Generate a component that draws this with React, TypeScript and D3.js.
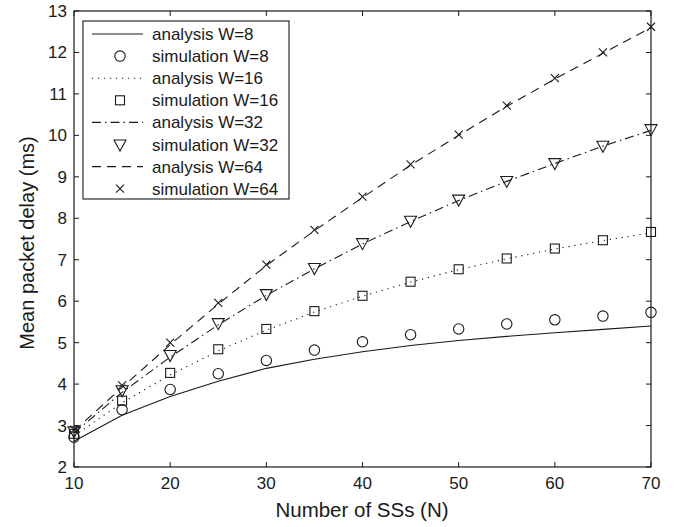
import React from "react";
import * as d3 from "d3";

const N = [10, 15, 20, 25, 30, 35, 40, 45, 50, 55, 60, 65, 70];

const simW8 = [2.72, 3.38, 3.87, 4.25, 4.57, 4.82, 5.02, 5.19, 5.33, 5.45, 5.55, 5.64, 5.73];
const simW16 = [2.8, 3.6, 4.27, 4.84, 5.33, 5.76, 6.13, 6.47, 6.77, 7.03, 7.27, 7.47, 7.67];
const simW32 = [2.86, 3.85, 4.7, 5.47, 6.17, 6.8, 7.4, 7.94, 8.45, 8.9, 9.33, 9.75, 10.15];
const simW64 = [2.9, 3.97, 5.0, 5.96, 6.88, 7.72, 8.52, 9.3, 10.02, 10.72, 11.38, 12.0, 12.62];

const anaW8 = [2.62, 3.25, 3.7, 4.07, 4.38, 4.6, 4.78, 4.93, 5.05, 5.15, 5.24, 5.32, 5.4];
const anaW16 = [2.75, 3.55, 4.22, 4.8, 5.3, 5.74, 6.12, 6.46, 6.76, 7.02, 7.26, 7.46, 7.65];
const anaW32 = [2.82, 3.8, 4.65, 5.43, 6.14, 6.78, 7.38, 7.92, 8.43, 8.89, 9.32, 9.74, 10.12];
const anaW64 = [2.87, 3.92, 4.95, 5.93, 6.86, 7.7, 8.5, 9.28, 10.0, 10.7, 11.36, 11.98, 12.6];

const xTicks = [10, 20, 30, 40, 50, 60, 70];
const yTicks = [2, 3, 4, 5, 6, 7, 8, 9, 10, 11, 12, 13];

const legendLabels = [
  "analysis W=8",
  "simulation W=8",
  "analysis W=16",
  "simulation W=16",
  "analysis W=32",
  "simulation W=32",
  "analysis W=64",
  "simulation W=64",
];

const C = "#1a1a1a";
const FONT = "'Liberation Sans', Arial, Helvetica, sans-serif";

type MarkerKind = "circle" | "square" | "triangle" | "x";

function Marker({ kind, x, y }: { kind: MarkerKind; x: number; y: number }) {
  if (kind === "circle") return <circle cx={x} cy={y} r={5.2} fill="none" stroke={C} strokeWidth={1.1} />;
  if (kind === "square") return <rect x={x - 4.5} y={y - 4.5} width={9} height={9} fill="none" stroke={C} strokeWidth={1.1} />;
  if (kind === "triangle")
    return <path d={`M${x - 6},${y - 4.5}L${x + 6},${y - 4.5}L${x},${y + 6.5}Z`} fill="none" stroke={C} strokeWidth={1.1} />;
  return <path d={`M${x - 4},${y - 4}L${x + 4},${y + 4}M${x - 4},${y + 4}L${x + 4},${y - 4}`} stroke={C} strokeWidth={1.1} />;
}

export default function App() {
  const W = 675, H = 527;
  const left = 74, right = 651, top = 11, bottom = 467;
  const x = d3.scaleLinear().domain([10, 70]).range([left, right]);
  const y = d3.scaleLinear().domain([2, 13]).range([bottom, top]);

  const lineGen = (vals: number[]) =>
    d3.line<number>().x((_, i) => x(N[i])).y((v) => y(v))(vals) || "";

  const analyses: { vals: number[]; dash: string }[] = [
    { vals: anaW8, dash: "none" },
    { vals: anaW16, dash: "1.2,4.8" },
    { vals: anaW32, dash: "9,4,1.5,4" },
    { vals: anaW64, dash: "9,6" },
  ];
  const sims: { vals: number[]; kind: MarkerKind }[] = [
    { vals: simW8, kind: "circle" },
    { vals: simW16, kind: "square" },
    { vals: simW32, kind: "triangle" },
    { vals: simW64, kind: "x" },
  ];

  const tickLen = 5;
  const fs = 17;

  return (
    <svg width={W} height={H} style={{ position: "absolute", left: 0, top: 0, background: "#fff" }} fontFamily={FONT}>
      <rect x={0} y={0} width={W} height={H} fill="#fff" />
      {xTicks.map((t) => (
        <g key={"xt" + t}>
          <line x1={x(t)} x2={x(t)} y1={bottom} y2={bottom - tickLen} stroke={C} />
          <line x1={x(t)} x2={x(t)} y1={top} y2={top + tickLen} stroke={C} />
          <text x={x(t)} y={bottom + 22} textAnchor="middle" fontSize={fs} fill={C}>{t}</text>
        </g>
      ))}
      {yTicks.map((t) => (
        <g key={"yt" + t}>
          <line x1={left} x2={left + tickLen} y1={y(t)} y2={y(t)} stroke={C} />
          <line x1={right} x2={right - tickLen} y1={y(t)} y2={y(t)} stroke={C} />
          <text x={left - 7} y={y(t) + 6} textAnchor="end" fontSize={fs} fill={C}>{t}</text>
        </g>
      ))}
      {analyses.map((a, i) => (
        <path key={"a" + i} d={lineGen(a.vals)} fill="none" stroke={C} strokeWidth={1.1} strokeDasharray={a.dash} />
      ))}
      {sims.map((s, i) => (
        <g key={"s" + i}>
          {s.vals.map((v, j) => (
            <Marker key={j} kind={s.kind} x={x(N[j])} y={y(v)} />
          ))}
        </g>
      ))}
      <rect x={left} y={top} width={right - left} height={bottom - top} fill="none" stroke={C} strokeWidth={1.2} />
      <text x={362} y={517} textAnchor="middle" fontSize={20.5} fill={C}>Number of SSs (N)</text>
      <text transform={`translate(34,243) rotate(-90)`} textAnchor="middle" fontSize={20} fill={C}>Mean packet delay (ms)</text>
      <g>
        <rect x={83} y={21} width={206} height={178} fill="#fff" stroke={C} strokeWidth={1.1} />
        {legendLabels.map((lab, i) => {
          const cy = 34 + i * 22.1;
          const isAna = i % 2 === 0;
          const k = Math.floor(i / 2);
          return (
            <g key={lab}>
              {isAna ? (
                <line x1={92} x2={143} y1={cy} y2={cy} stroke={C} strokeWidth={1.1} strokeDasharray={analyses[k].dash} />
              ) : (
                <Marker kind={sims[k].kind} x={120} y={cy} />
              )}
              <text x={152} y={cy + 6} fontSize={17} fill={C}>{lab}</text>
            </g>
          );
        })}
      </g>
    </svg>
  );
}
